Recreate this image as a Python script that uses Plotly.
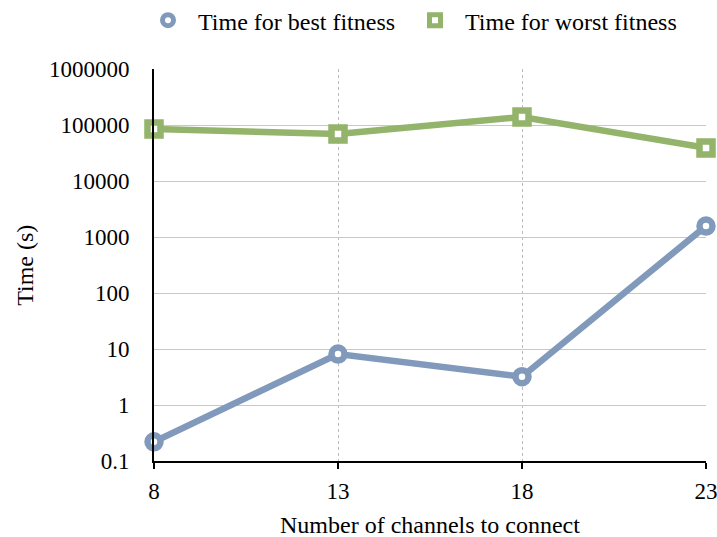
import plotly.graph_objects as go

channels = [8, 13, 18, 23]
best_time = [0.22, 8.1, 3.2, 1570]
worst_time = [85000, 69000, 139000, 39000]
y_ticks = [0.1, 1, 10, 100, 1000, 10000, 100000, 1000000]
y_tick_text = ["0.1", "1", "10", "100", "1000", "10000", "100000", "1000000"]
x_title = "Number of channels to connect"
y_title = "Time (s)"

blue = "#8199ba"
green = "#93b46a"
font_family = "Liberation Serif, Times New Roman, serif"

series = [
    ("Time for best fitness", best_time, blue, "circle", "legend"),
    ("Time for worst fitness", worst_time, green, "square", "legend2"),
]

fig = go.Figure()
for name, values, color, symbol, legend_id in series:
    # white-filled markers sit on top of the line, leaving a hollow centre
    marker = dict(symbol=symbol, size=13, color="white", line=dict(width=6.5, color=color))
    fig.add_trace(go.Scatter(
        x=channels, y=values, name=name, mode="lines+markers",
        line=dict(color=color, width=6.5), marker=marker,
        cliponaxis=False, showlegend=False,
    ))
    # legend entry shows only the marker symbol
    fig.add_trace(go.Scatter(
        x=[None], y=[None], name=name, mode="markers", legend=legend_id,
        marker=dict(symbol=symbol, size=11, color="white", line=dict(width=5, color=color)),
    ))

legend_style = dict(orientation="h", xanchor="left", xref="container",
                    y=1.181, yanchor="top", yref="paper",
                    font=dict(size=24), itemwidth=50, bgcolor="rgba(0,0,0,0)")

fig.update_layout(
    width=717, height=537,
    margin=dict(l=154, r=11, t=69, b=76, autoexpand=False),
    paper_bgcolor="white", plot_bgcolor="white",
    font=dict(family=font_family, size=23, color="black"),
    legend=dict(x=138 / 717, **legend_style),
    legend2=dict(x=405 / 717, **legend_style),
    showlegend=True,
)

# axis titles placed as fixed annotations
fig.add_annotation(text=x_title, xref="paper", yref="paper", x=0.5, y=-0.163,
                   xanchor="center", yanchor="middle", showarrow=False,
                   font=dict(size=24))
fig.add_annotation(text=y_title, xref="paper", yref="paper", x=-0.234, y=0.5,
                   xanchor="center", yanchor="middle", showarrow=False,
                   textangle=-90, font=dict(size=24))

fig.update_xaxes(
    range=[8, 23], tickvals=channels, ticktext=[str(c) for c in channels],
    showline=True, linecolor="black", linewidth=2,
    ticks="outside", ticklen=6, tickcolor="black", tickwidth=1.5,
    showgrid=True, gridcolor="#bbbbbb", griddash="dot", gridwidth=1,
    zeroline=False, automargin=False, ticklabelstandoff=2,
    ticklabeloverflow="allow",
)
fig.update_yaxes(
    type="log", range=[-1, 6], tickvals=y_ticks, ticktext=y_tick_text,
    showline=True, linecolor="black", linewidth=2,
    showgrid=True, gridcolor="#c8c8c8", gridwidth=1,
    zeroline=False, ticks="", ticklabelstandoff=18, automargin=False,
)

fig.write_html("out.html")
